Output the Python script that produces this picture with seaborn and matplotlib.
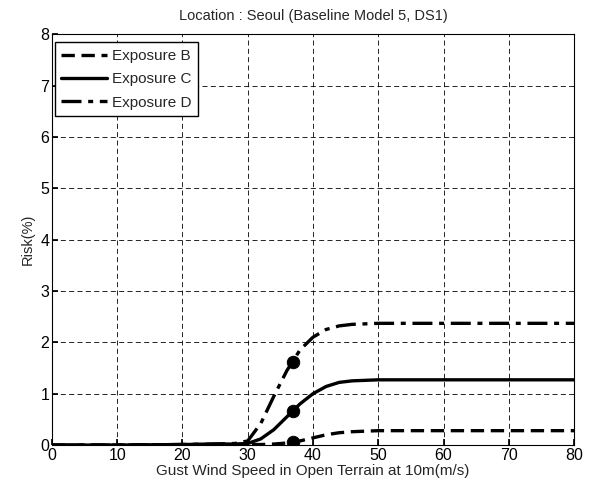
#!/usr/bin/env python3
"""Risk vs gust wind speed for three exposure categories."""

import matplotlib
matplotlib.use("Agg")
import matplotlib.pyplot as plt
import pandas as pd
import seaborn as sns

SPEED = [0, 10, 20, 25, 28, 30, 32, 34, 36, 38, 40, 42, 44, 46, 48, 50, 60, 70, 80]
RISK_B = [0.0, 0.0, 0.01, 0.01, 0.01, 0.01, 0.01, 0.02, 0.04, 0.08, 0.14, 0.2, 0.24, 0.26, 0.27, 0.28, 0.28, 0.28, 0.28]
RISK_C = [0.0, 0.0, 0.01, 0.02, 0.02, 0.03, 0.12, 0.3, 0.55, 0.8, 1.0, 1.14, 1.22, 1.25, 1.26, 1.27, 1.27, 1.27, 1.27]
RISK_D = [0.0, 0.0, 0.01, 0.02, 0.03, 0.08, 0.42, 0.95, 1.45, 1.85, 2.1, 2.25, 2.32, 2.35, 2.36, 2.37, 2.37, 2.37, 2.37]
MARK_X = 37
MARK_B, MARK_C, MARK_D = 0.06, 0.67, 1.62

LABELS = ["Exposure B", "Exposure C", "Exposure D"]
STYLES = {"Exposure B": (0, (4, 2)), "Exposure C": "-", "Exposure D": (0, (6, 2, 1.5, 2))}

df = pd.concat([
    pd.DataFrame({"speed": SPEED, "risk": vals, "exposure": lab})
    for lab, vals in zip(LABELS, [RISK_B, RISK_C, RISK_D])
])
marks = pd.DataFrame({"speed": [MARK_X] * 3, "risk": [MARK_B, MARK_C, MARK_D]})

sns.set_theme(style="ticks")
plt.rcParams["font.family"] = ["Liberation Sans", "DejaVu Sans"]

fig = plt.figure(figsize=(5.9, 4.88), dpi=100)
ax = fig.add_axes([0.088, 0.088, 0.885, 0.842])

for lab in LABELS:
    sub = df[df["exposure"] == lab]
    sns.lineplot(data=sub, x="speed", y="risk", color="black", linewidth=2.4,
                 linestyle=STYLES[lab], label=lab, ax=ax)
sns.scatterplot(data=marks, x="speed", y="risk", color="black", s=80,
                edgecolor="black", zorder=5, legend=False, ax=ax)

ax.set_xlim(0, 80)
ax.set_ylim(0, 8)
ax.set_xticks(range(0, 81, 10))
ax.set_yticks(range(0, 9))
ax.grid(True, color="black", linestyle=(0, (6, 4)), linewidth=0.6)
for s in ax.spines.values():
    s.set_color("black")
    s.set_linewidth(0.8)
ax.tick_params(direction="in", length=4, colors="black", labelsize=11.5, pad=2)
ax.set_xlabel("Gust Wind Speed in Open Terrain at 10m(m/s)", fontsize=11, labelpad=1)
ax.set_ylabel("Risk(%)", fontsize=10.5, labelpad=4)
ax.set_title("Location : Seoul (Baseline Model 5, DS1)", fontsize=10.5, pad=10)

leg = ax.legend(loc="upper left", fontsize=11, frameon=True, fancybox=False,
                edgecolor="black", framealpha=1, handlelength=3.0,
                borderpad=0.45, labelspacing=0.6, handletextpad=0.3,
                borderaxespad=0.0, bbox_to_anchor=(0.005, 0.98))
leg.get_frame().set_linewidth(1.0)

fig.savefig("out.png", dpi=100)
